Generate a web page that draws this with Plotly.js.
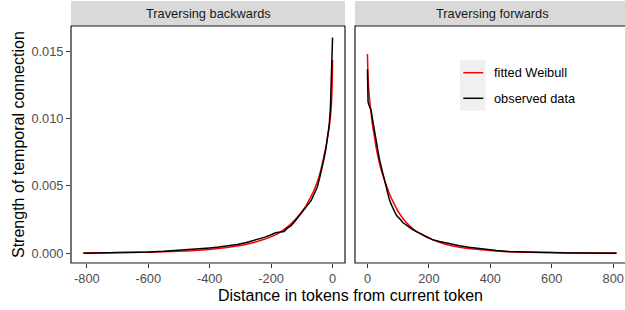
<!DOCTYPE html>
<html>
<head>
<meta charset="utf-8">
<script src="https://cdn.plot.ly/plotly-3.0.1.min.js"></script>
<style>
html,body{margin:0;padding:0;overflow:hidden;background:#fff;}
#chart{width:630px;height:310px;}
</style>
</head>
<body>
<div id="chart"></div>
<script>
// ---- data ----
var panelTitles = ["Traversing backwards", "Traversing forwards"];
var seriesNames = ["fitted Weibull", "observed data"];

var backFitX = [-811,-750,-700,-650,-600,-550,-500,-450,-400,-350,-300,-260,-230,-200,-175,-150,-130,-110,-90,-75,-60,-48,-38,-28,-20,-14,-9,-5,-3,-1,0];
var backFitY = [0.00003,0.00004,0.00005,0.00006,0.00008,0.00011,0.00015,0.00021,0.00029,0.00041,0.00058,0.00078,0.00098,0.00124,0.0015,0.0019,0.0023,0.0028,0.0034,0.0040,0.0047,0.0054,0.0062,0.0072,0.0081,0.0089,0.0097,0.0106,0.0114,0.0127,0.01434];

var backObsX = [-811,-760,-700,-650,-600,-550,-500,-470,-440,-420,-400,-370,-340,-310,-280,-260,-240,-220,-200,-185,-170,-158,-148,-135,-120,-108,-95,-80,-70,-60,-50,-42,-35,-28,-22,-16,-11,-7,-4,-2,0];
var backObsY = [0.00001,0.00002,0.00004,0.00006,0.0001,0.00015,0.00022,0.00028,0.00035,0.00037,0.0004,0.00046,0.00054,0.00066,0.0008,0.00092,0.00105,0.0012,0.00138,0.00152,0.00158,0.00162,0.00185,0.00205,0.00245,0.0028,0.0032,0.00355,0.0039,0.0044,0.0049,0.0056,0.0062,0.0070,0.0077,0.0087,0.0095,0.0108,0.0125,0.0140,0.0160];

var fwdFitX = [0,1,3,5,8,12,16,21,28,37,47,59,72,86,100,115,130,150,170,190,210,237,270,300,345,400,454,520,600,700,811];
var fwdFitY = [0.01478,0.0138,0.0126,0.0119,0.0112,0.0104,0.0096,0.0089,0.0079,0.0069,0.0060,0.0052,0.0044,0.0037,0.0031,0.0026,0.0022,0.00178,0.00147,0.00123,0.00103,0.00080,0.00058,0.00045,0.00031,0.0002,0.00012,0.00008,0.00005,0.00003,0.00002];

var fwdObsX = [0,1,2,5,8,12,16,21,26,32,38,43,48,53,58,64,70,76,81,88,95,100,108,115,125,135,145,155,170,185,200,215,235,255,280,300,330,360,390,420,460,500,550,600,650,700,750,811];
var fwdObsY = [0.01365,0.0120,0.01125,0.0110,0.01085,0.0106,0.0100,0.0093,0.0086,0.0078,0.0071,0.0066,0.0061,0.0056,0.0051,0.0046,0.0041,0.0037,0.0034,0.0031,0.0028,0.0027,0.00248,0.00228,0.0021,0.00195,0.0018,0.00166,0.00148,0.0013,0.00112,0.00098,0.00087,0.00076,0.00064,0.00056,0.00045,0.00036,0.00026,0.0002,0.00013,0.0001,0.00007,0.00004,0.00003,0.00002,0.00001,0.0];

var backTicks = [-800,-600,-400,-200,0];
var backTickText = ["-800","-600","-400","-200","0"];
var fwdTicks = [0,200,400,600,800];
var fwdTickText = ["0","200","400","600","800"];
var yTicks = [0,0.005,0.010,0.015];
var yTickText = ["0.000","0.005","0.010","0.015"];
var colors = ["#FF0000", "#000000"];

// ---- layout geometry (pixels) ----
var W = 630, H = 310, L = 71, R = 1, T = 26, B = 47;
var pw = W - L - R, ph = H - T - B;
function px(x){ return (x - L) / pw; }
function py(y){ return (H - B - y) / ph; }

var tickFont = {family: "Liberation Sans, Arial, sans-serif", size: 12.8, color: "#4D4D4D"};

var traces = [
  {x: backFitX, y: backFitY, xaxis: "x", yaxis: "y", mode: "lines", line: {color: colors[0], width: 1.5, shape: "spline", smoothing: 0.5}, name: seriesNames[0], showlegend: false},
  {x: backObsX, y: backObsY, xaxis: "x", yaxis: "y", mode: "lines", line: {color: colors[1], width: 1.5}, name: seriesNames[1], showlegend: false},
  {x: fwdFitX, y: fwdFitY, xaxis: "x2", yaxis: "y2", mode: "lines", line: {color: colors[0], width: 1.5, shape: "spline", smoothing: 0.5}, name: seriesNames[0], showlegend: false},
  {x: fwdObsX, y: fwdObsY, xaxis: "x2", yaxis: "y2", mode: "lines", line: {color: colors[1], width: 1.5}, name: seriesNames[1], showlegend: false}
];

var axisCommon = {showgrid: false, zeroline: false, showline: false, ticks: "outside", ticklen: 4, tickwidth: 1.1, tickcolor: "#333333", tickfont: tickFont};

var yRange = [-0.00072, 0.01686];

var layout = {
  width: W, height: H,
  margin: {l: L, r: R, t: T, b: B, pad: 0},
  paper_bgcolor: "#FFFFFF", plot_bgcolor: "#FFFFFF",
  font: {family: "Liberation Sans, Arial, sans-serif"},
  showlegend: false,
  xaxis: Object.assign({}, axisCommon, {domain: [0, 274/pw], range: [-851.5, 40.5], tickmode: "array", tickvals: backTicks, ticktext: backTickText, anchor: "y"}),
  xaxis2: Object.assign({}, axisCommon, {domain: [284/pw, 1], range: [-40.5, 851.5], tickmode: "array", tickvals: fwdTicks, ticktext: fwdTickText, anchor: "y2"}),
  yaxis: Object.assign({}, axisCommon, {domain: [0, 1], range: yRange, tickmode: "array", tickvals: yTicks, ticktext: yTickText, anchor: "x"}),
  yaxis2: Object.assign({}, axisCommon, {domain: [0, 1], range: yRange, matches: "y", anchor: "x2", showticklabels: false, ticks: ""}),
  shapes: [
    {type: "rect", xref: "x domain", yref: "paper", x0: 0, x1: 1, y0: 1, y1: 1 + 25/ph, fillcolor: "#D9D9D9", line: {width: 0}, layer: "below"},
    {type: "rect", xref: "x2 domain", yref: "paper", x0: 0, x1: 1, y0: 1, y1: 1 + 25/ph, fillcolor: "#D9D9D9", line: {width: 0}, layer: "below"},
    {type: "rect", xref: "x domain", yref: "y domain", x0: 0, x1: 1, y0: 0, y1: 1, line: {color: "#1A1A1A", width: 1.2}, fillcolor: "rgba(0,0,0,0)", layer: "above"},
    {type: "rect", xref: "x2 domain", yref: "y2 domain", x0: 0, x1: 1, y0: 0, y1: 1, line: {color: "#1A1A1A", width: 1.2}, fillcolor: "rgba(0,0,0,0)", layer: "above"},
    // legend key background and keys
    {type: "rect", xref: "paper", yref: "paper", x0: px(460), x1: px(485.7), y0: py(110.7), y1: py(60), fillcolor: "#F0F0F0", line: {width: 0}, layer: "below"},
    {type: "line", xref: "paper", yref: "paper", x0: px(463.3), x1: px(483.3), y0: py(72.7), y1: py(72.7), line: {color: colors[0], width: 1.5}},
    {type: "line", xref: "paper", yref: "paper", x0: px(463.3), x1: px(483.3), y0: py(98.3), y1: py(98.3), line: {color: colors[1], width: 1.5}}
  ],
  annotations: [
    {text: panelTitles[0], xref: "x domain", yref: "paper", x: 0.5, y: py(13.5), xanchor: "center", yanchor: "middle", showarrow: false, font: {size: 12.8, color: "#1A1A1A"}},
    {text: panelTitles[1], xref: "x2 domain", yref: "paper", x: 0.5, y: py(13.5), xanchor: "center", yanchor: "middle", showarrow: false, font: {size: 12.8, color: "#1A1A1A"}},
    {text: seriesNames[0], xref: "paper", yref: "paper", x: px(492), y: py(72.7), xanchor: "left", yanchor: "middle", showarrow: false, font: {size: 12.8, color: "#000000"}},
    {text: seriesNames[1], xref: "paper", yref: "paper", x: px(492), y: py(98.3), xanchor: "left", yanchor: "middle", showarrow: false, font: {size: 12.8, color: "#000000"}},
    {text: "Distance in tokens from current token", xref: "paper", yref: "paper", x: px(350), y: py(295), xanchor: "center", yanchor: "middle", showarrow: false, font: {size: 16, color: "#000000"}},
    {text: "Strength of temporal connection", xref: "paper", yref: "paper", x: px(18), y: py(145), xanchor: "center", yanchor: "middle", textangle: -90, showarrow: false, font: {size: 16, color: "#000000"}}
  ]
};

Plotly.newPlot("chart", traces, layout, {displayModeBar: false, staticPlot: true});
</script>
</body>
</html>
